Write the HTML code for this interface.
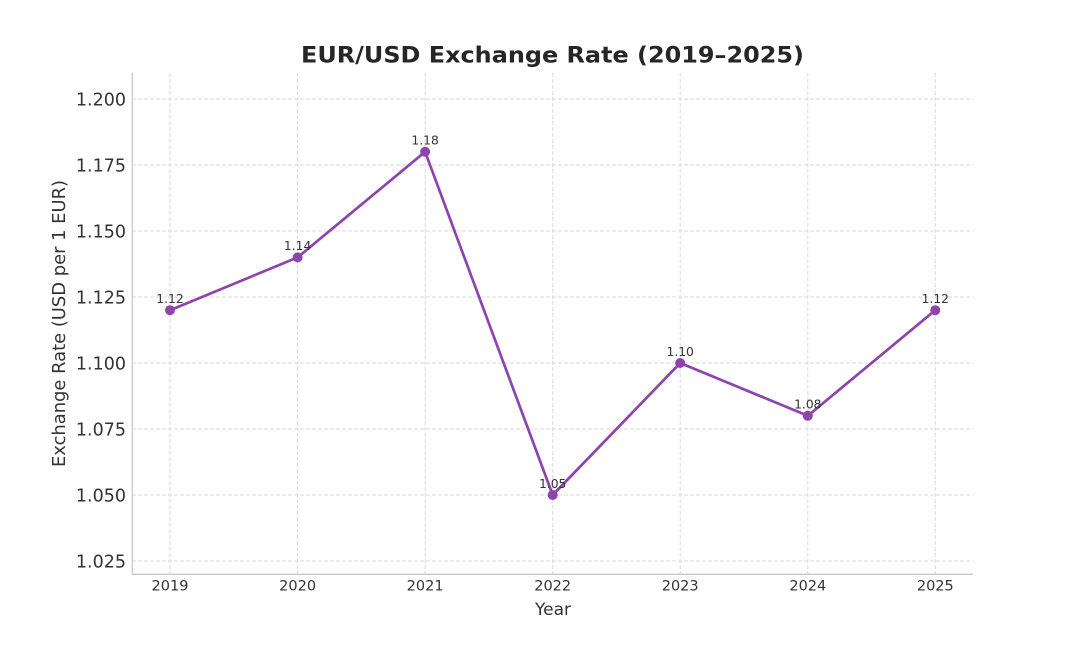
<!DOCTYPE html>
<html>
<head>
<meta charset="utf-8">
<style>
  html, body { margin: 0; padding: 0; background: #ffffff; }
  body { width: 1079px; height: 655px; overflow: hidden; }
  svg { display: block; }
  text { font-family: "DejaVu Sans", "Liberation Sans", sans-serif; }
</style>
</head>
<body>
<svg width="1079" height="655" viewBox="0 0 1079 655" xmlns="http://www.w3.org/2000/svg">
  <rect x="0" y="0" width="1079" height="655" fill="#ffffff"/>

  <!-- horizontal grid -->
  <g stroke="#d9d9d9" stroke-width="1" stroke-dasharray="4,2" fill="none">
    <line x1="132" y1="99" x2="973" y2="99"/>
    <line x1="132" y1="165" x2="973" y2="165"/>
    <line x1="132" y1="231" x2="973" y2="231"/>
    <line x1="132" y1="297" x2="973" y2="297"/>
    <line x1="132" y1="363" x2="973" y2="363"/>
    <line x1="132" y1="429" x2="973" y2="429"/>
    <line x1="132" y1="495" x2="973" y2="495"/>
    <line x1="132" y1="561" x2="973" y2="561"/>
  </g>
  <!-- vertical grid -->
  <g stroke="#d9d9d9" stroke-width="1" stroke-dasharray="4,2" fill="none">
    <line x1="170" y1="73" x2="170" y2="574"/>
    <line x1="297.6" y1="73" x2="297.6" y2="574"/>
    <line x1="425.1" y1="73" x2="425.1" y2="574"/>
    <line x1="552.7" y1="73" x2="552.7" y2="574"/>
    <line x1="680.2" y1="73" x2="680.2" y2="574"/>
    <line x1="807.8" y1="73" x2="807.8" y2="574"/>
    <line x1="935.3" y1="73" x2="935.3" y2="574"/>
  </g>

  <!-- spines -->
  <g stroke="#c8c8c8" stroke-width="1.3" fill="none">
    <line x1="132.3" y1="72.7" x2="132.3" y2="574.3"/>
    <line x1="132.3" y1="574.3" x2="973" y2="574.3"/>
  </g>

  <!-- y tick labels -->
  <g fill="#333333" font-size="17.5" text-anchor="end">
    <text x="126" y="105.3">1.200</text>
    <text x="126" y="171.3">1.175</text>
    <text x="126" y="237.3">1.150</text>
    <text x="126" y="303.3">1.125</text>
    <text x="126" y="369.3">1.100</text>
    <text x="126" y="435.3">1.075</text>
    <text x="126" y="501.3">1.050</text>
    <text x="126" y="567.3">1.025</text>
  </g>

  <!-- x tick labels -->
  <g fill="#333333" font-size="14.5" text-anchor="middle">
    <text x="170" y="590.7">2019</text>
    <text x="297.6" y="590.7">2020</text>
    <text x="425.1" y="590.7">2021</text>
    <text x="552.7" y="590.7">2022</text>
    <text x="680.2" y="590.7">2023</text>
    <text x="807.8" y="590.7">2024</text>
    <text x="935.3" y="590.7">2025</text>
  </g>

  <!-- axis labels -->
  <text x="553" y="615" font-size="17" fill="#333333" text-anchor="middle">Year</text>
  <text transform="translate(65,323.5) rotate(-90)" x="0" y="0" font-size="17.5" fill="#333333" text-anchor="middle" textLength="287" lengthAdjust="spacingAndGlyphs">Exchange Rate (USD per 1 EUR)</text>

  <!-- title -->
  <text x="552.5" y="62.3" font-size="22.5" font-weight="bold" fill="#262626" text-anchor="middle" textLength="503" lengthAdjust="spacingAndGlyphs">EUR/USD Exchange Rate (2019–2025)</text>

  <!-- series line -->
  <polyline fill="none" stroke="#8e44ad" stroke-width="2.7" stroke-linejoin="round" stroke-linecap="round"
    points="170,310.2 297.6,257.4 425.1,151.8 552.7,495 680.2,363 807.8,415.8 935.3,310.2"/>
  <g fill="#8e44ad">
    <circle cx="170" cy="310.2" r="5"/>
    <circle cx="297.6" cy="257.4" r="5"/>
    <circle cx="425.1" cy="151.8" r="5"/>
    <circle cx="552.7" cy="495" r="5"/>
    <circle cx="680.2" cy="363" r="5"/>
    <circle cx="807.8" cy="415.8" r="5"/>
    <circle cx="935.3" cy="310.2" r="5"/>
  </g>

  <!-- annotations -->
  <g fill="#333333" font-size="12.3" text-anchor="middle">
    <text x="170" y="303">1.12</text>
    <text x="297.6" y="250.2">1.14</text>
    <text x="425.1" y="144.6">1.18</text>
    <text x="552.7" y="487.8">1.05</text>
    <text x="680.2" y="355.8">1.10</text>
    <text x="807.8" y="408.6">1.08</text>
    <text x="935.3" y="303">1.12</text>
  </g>
</svg>
</body>
</html>
